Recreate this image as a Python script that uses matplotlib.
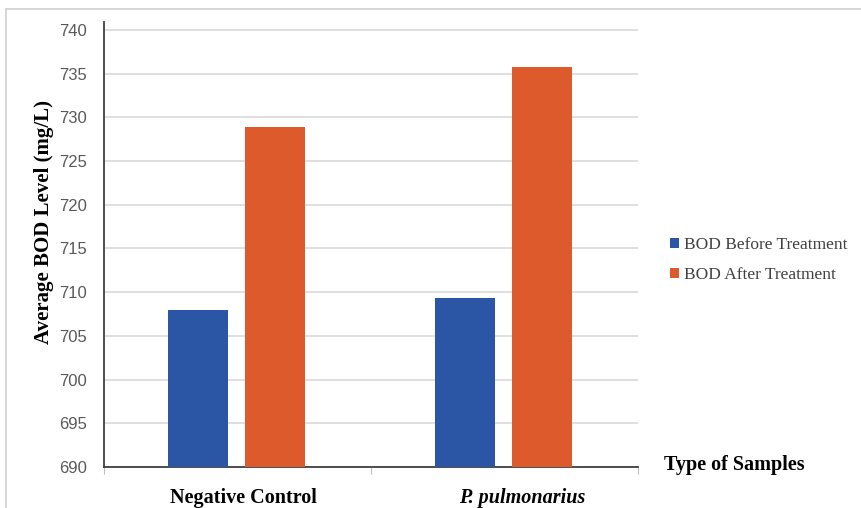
import matplotlib.pyplot as plt
from matplotlib.lines import Line2D
import numpy as np

# BOD readings for each sample type
samples = ["Negative Control", "P. pulmonarius"]
bod_before = [708.0, 709.3]
bod_after = [728.9, 735.7]
series_names = ["BOD Before Treatment", "BOD After Treatment"]
yticks = list(range(690, 745, 5))

blue = "#2A56A5"
orange = "#DC5A2C"

fig = plt.figure(figsize=(8.61, 5.08), dpi=100)
ax = fig.add_axes([104 / 861, 41 / 508, 534 / 861, 445 / 508])

x = np.arange(len(samples))
w = 0.224
gap = 0.064
ax.bar(x - (w + gap) / 2 - 0.005, bod_before, width=w, color=blue, label=series_names[0], zorder=3)
ax.bar(x + (w + gap) / 2 - 0.005, bod_after, width=w, color=orange, label=series_names[1], zorder=3)

ax.set_xlim(-0.5, len(samples) - 0.5)
ax.set_ylim(690, 740.9)
ax.set_yticks(yticks)
ax.yaxis.grid(True, color="#d9d9d9", linewidth=1.2, zorder=0)
ax.set_axisbelow(True)

ax.tick_params(axis="y", length=0, pad=12, labelsize=12, labelcolor="#595959")
for lab in ax.get_yticklabels():
    lab.set_family("Liberation Sans")

# category ticks sit on the group boundaries, names below each group
ax.set_xticks([-0.5, 0.5, 1.5])
ax.set_xticklabels([])
ax.tick_params(axis="x", length=5, color="#bfbfbf", direction="out")
ax.set_xticks([0.024, 1.067], minor=True)
ax.set_xticklabels(samples, minor=True)
ax.tick_params(axis="x", which="minor", length=0, pad=15)
for lab, style in zip(ax.get_xticklabels(minor=True), ["normal", "italic"]):
    lab.set_family("Liberation Serif")
    lab.set_fontweight("bold")
    lab.set_fontsize(14.5)
    lab.set_style(style)

for side in ["top", "right"]:
    ax.spines[side].set_visible(False)
ax.spines["left"].set_color("#404040")
ax.spines["left"].set_linewidth(1.3)
ax.spines["bottom"].set_color("#404040")
ax.spines["bottom"].set_linewidth(1.3)

fig.text(44 / 861, 1 - 222 / 508, "Average BOD Level (mg/L)", family="Liberation Serif",
         fontweight="bold", fontsize=15, rotation=90, ha="center", va="center")

fig.text(664 / 861, 1 - 465 / 508, "Type of Samples", family="Liberation Serif",
         fontweight="bold", fontsize=14.5, va="center", ha="left")

fig.legend(loc="center left", bbox_to_anchor=(654 / 861, 1 - 260 / 508),
           frameon=False, handlelength=0.55, handleheight=0.55, handletextpad=0.3,
           labelspacing=0.8, prop={"family": "Liberation Serif", "size": 12.5},
           labelcolor="#404040")

# outer chart frame (top and left edges)
fig.add_artist(Line2D([6 / 861, 1], [1 - 9 / 508, 1 - 9 / 508], color="#d0d0d0",
                      linewidth=1.2, transform=fig.transFigure))
fig.add_artist(Line2D([6 / 861, 6 / 861], [0, 1 - 9 / 508], color="#d0d0d0",
                      linewidth=1.2, transform=fig.transFigure))

fig.savefig("out.png", dpi=100)
